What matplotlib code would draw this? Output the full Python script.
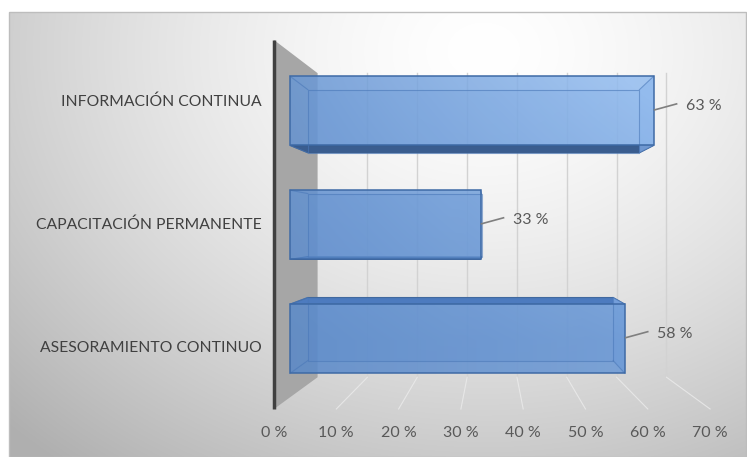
import numpy as np
import matplotlib.pyplot as plt
from matplotlib.patches import Polygon, Rectangle
from matplotlib.colors import to_rgb

categorias = ['INFORMACIÓN CONTINUA', 'CAPACITACIÓN PERMANENTE', 'ASESORAMIENTO CONTINUO']
porcentajes = [63, 33, 58]
etiquetas = ['63 %', '33 %', '58 %']
ticks = [0, 10, 20, 30, 40, 50, 60, 70]
tick_labels = ['0 %', '10 %', '20 %', '30 %', '40 %', '50 %', '60 %', '70 %']

plt.rcParams['font.family'] = ['Lato', 'DejaVu Sans']

W, H = 747, 457
fig = plt.figure(figsize=(W / 100, H / 100), dpi=100)
ax = fig.add_axes([0, 0, 1, 1])
ax.set_xlim(0, W)
ax.set_ylim(H, 0)
ax.axis('off')

# fondo con degradado (claro arriba al centro, gris en los bordes)
yy, xx = np.mgrid[0:H, 0:W]
d = np.sqrt(((xx - 480) / 520.0) ** 2 + ((yy - 40) / 420.0) ** 2)
g = 1 - 0.21 * np.clip(d, 0, 1.3) ** 1.5
bg = np.dstack([g, g, g])
ax.imshow(bg, extent=(9, W, H, 12), zorder=0, aspect='auto')
ax.add_patch(Rectangle((9, 12), W - 10, H - 12, fill=False, ec='#bdbdbd', lw=1, zorder=1))

# "perspectiva" tipo Excel 3D: plano frontal -> punto de fuga
VX, VY = 492, 228.5
X0, PX = 274, 6.23          # x de 0 % y px por 1 % en el plano frontal
Y0, BAND = 40, 123          # arriba del area y alto de cada categoria
K_WALL = (0.80, 0.824)
K_FRONT = (0.926, 0.926)
K_BACK = (0.845, 0.845)
HALF = 0.607 * BAND / 2


def proj(v, y, k):
    x = X0 + PX * v
    return VX + (x - VX) * k[0], VY + (y - VY) * k[1]


ybot = Y0 + BAND * len(categorias)

# pared lateral gris
pared = [proj(0, Y0, (1, 1)), proj(0, Y0, K_WALL), proj(0, ybot, K_WALL), proj(0, ybot, (1, 1))]
ax.add_patch(Polygon(pared, closed=True, fc='#a6a6a6', ec='none', zorder=2))

# lineas de division: pared del fondo y piso
for t in ticks[1:]:
    a = proj(t, Y0, K_WALL)
    b = proj(t, ybot, K_WALL)
    c = proj(t, ybot, (1, 1))
    ax.plot([a[0], b[0]], [a[1], b[1]], color='#d2d2d2', lw=1, zorder=2)
    ax.plot([b[0], c[0]], [b[1], c[1]], color='#ececec', lw=0.8, alpha=0.8, zorder=2)

# eje vertical
a = proj(0, Y0, (1, 1))
b = proj(0, ybot, (1, 1))
ax.plot([a[0], b[0]], [a[1], b[1]], color='#404040', lw=2.5, zorder=3, solid_capstyle='butt')

# degradado de las barras
dark = np.array(to_rgb('#5383c5'))
light = np.array(to_rgb('#93bcef'))
yn = np.clip((yy - 80) / 260.0, 0, 1)
xn = np.clip((xx - 290) / 360.0, 0, 1.2)
t = np.clip(0.1 + 0.25 * (1 - yn) + 0.7 * xn * (1 - 0.55 * yn), 0, 1)
grad = dark[None, None, :] * (1 - t[..., None]) + light[None, None, :] * t[..., None]

for i, (cat, v, lab) in enumerate(zip(categorias, porcentajes, etiquetas)):
    yc = Y0 + (i + 0.5) * BAND
    F = [proj(0, yc - HALF, K_FRONT), proj(v, yc - HALF, K_FRONT),
         proj(v, yc + HALF, K_FRONT), proj(0, yc + HALF, K_FRONT)]
    B = [proj(0, yc - HALF, K_BACK), proj(v, yc - HALF, K_BACK),
         proj(v, yc + HALF, K_BACK), proj(0, yc + HALF, K_BACK)]

    # cara trasera
    ax.add_patch(Polygon(B, closed=True, fc='#5b8bd0', ec='none', alpha=0.35, zorder=4))
    # cara superior / inferior
    if yc < VY:
        ax.add_patch(Polygon([F[3], F[2], B[2], B[3]], closed=True, fc='#3a5d8f',
                             ec='#35598a', lw=0.8, zorder=5))
    else:
        ax.add_patch(Polygon([F[0], F[1], B[1], B[0]], closed=True, fc='#4d7bbf',
                             ec='#41699f', lw=0.8, zorder=5))
    # cara derecha
    ax.add_patch(Polygon([F[1], B[1], B[2], F[2]], closed=True, fc='#7ea8e2',
                         ec='none', alpha=0.8, zorder=5))

    # cara frontal con degradado
    poly = Polygon(F, closed=True, fc='none', ec='none', zorder=6)
    ax.add_patch(poly)
    im = ax.imshow(grad, extent=(0, W, H, 0), zorder=6, alpha=0.86, aspect='auto')
    im.set_clip_path(poly)

    # aristas traseras vistas a traves
    ax.add_patch(Polygon(B, closed=True, fill=False, ec='#4a78b8', lw=0.8, alpha=0.6, zorder=7))
    for p, q in zip(F, B):
        ax.plot([p[0], q[0]], [p[1], q[1]], color='#4a78b8', lw=0.8, alpha=0.6, zorder=7)
    ax.add_patch(Polygon(F, closed=True, fill=False, ec='#3e6aa6', lw=1.1, zorder=8))

    # etiqueta de categoria
    ax.text(262, yc, cat, ha='right', va='center', fontsize=11.3, color='#404040', zorder=9)

    # etiqueta de dato con linea guia
    xr = F[1][0]
    yf = (F[1][1] + F[2][1]) / 2
    ax.plot([xr + 1, xr + 23], [yf - 1, yf - 7], color='#7f7f7f', lw=1.2, zorder=9)
    ax.text(xr + 32, yf - 5, lab, ha='left', va='center', fontsize=11.5, color='#595959', zorder=9)

# etiquetas del eje de valores
for t_, tl in zip(ticks, tick_labels):
    x, _ = proj(t_, ybot, (1, 1))
    ax.text(x, 433, tl, ha='center', va='center', fontsize=11.5, color='#595959', zorder=9)

fig.savefig('out.png', dpi=100)
